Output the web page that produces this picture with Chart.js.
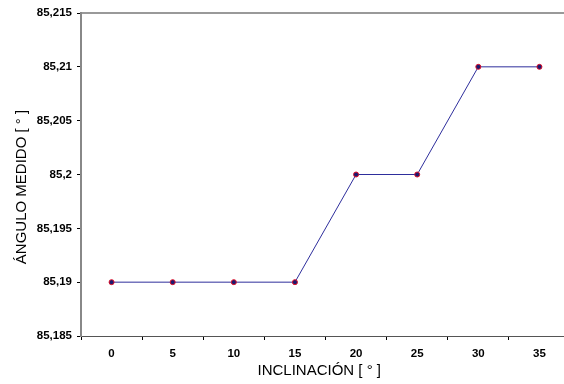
<!DOCTYPE html>
<html>
<head>
<meta charset="utf-8">
<script src="https://cdn.jsdelivr.net/npm/chart.js@4/dist/chart.umd.min.js"></script>
<style>
  html, body { margin: 0; padding: 0; background: #fff; overflow: hidden; }
  #wrap { width: 575px; height: 384px; position: relative; }
</style>
</head>
<body>
<div id="wrap"><canvas id="c"></canvas></div>
<script>
// Inclinación aplicada (grados) y ángulo medido
const inclinacion = ['0', '5', '10', '15', '20', '25', '30', '35'];
const anguloMedido = [85.19, 85.19, 85.19, 85.19, 85.2, 85.2, 85.21, 85.21];
const yTickValues = [85.185, 85.19, 85.195, 85.2, 85.205, 85.21, 85.215];
const yTickLabels = ['85,185', '85,19', '85,195', '85,2', '85,205', '85,21', '85,215'];

const FONT = '"Liberation Sans", Arial, sans-serif';

new Chart(document.getElementById('c'), {
  type: 'line',
  data: {
    labels: inclinacion,
    datasets: [{
      data: anguloMedido,
      borderColor: '#2e2e9c',
      borderWidth: 1,
      pointRadius: 2.5,
      pointBackgroundColor: '#1a1a70',
      pointBorderColor: '#e0102a',
      pointBorderWidth: 1,
      tension: 0
    }]
  },
  options: {
    responsive: true,
    maintainAspectRatio: false,
    animation: false,
    layout: { padding: { top: 13, right: 0, bottom: 0, left: 0 } },
    plugins: { legend: { display: false }, tooltip: { enabled: false } },
    scales: {
      x: {
        offset: true,
        grid: { offset: true, drawOnChartArea: false, drawTicks: true, tickLength: 4, color: '#000' },
        border: { color: '#555', width: 1 },
        ticks: { color: '#000', font: { family: FONT, size: 11.5, weight: 'bold' }, padding: 7, maxRotation: 0 },
        // trailing spaces nudge the centred title slightly left
        title: { display: true, text: 'INCLINACIÓN [ ° ]   ', color: '#000', font: { family: FONT, size: 15 }, padding: { top: 0, bottom: 4 } },
        afterFit: s => { s.height = 48; }
      },
      xTop: {
        position: 'top',
        grid: { display: false },
        ticks: { display: false },
        border: { color: '#999', width: 2 },
        afterFit: s => { s.height = 0; }
      },
      y: {
        min: 85.185,
        max: 85.215,
        afterBuildTicks: s => { s.ticks = yTickValues.map(v => ({ value: v })); },
        grid: { drawOnChartArea: false, drawTicks: true, tickLength: 4, color: '#000' },
        border: { color: '#888', width: 2 },
        ticks: {
          color: '#000',
          font: { family: FONT, size: 11.5, weight: 'bold' },
          padding: 5,
          callback: (v, i) => yTickLabels[i]
        },
        // trailing spaces move the rotated title a little lower
        title: { display: true, text: 'ÁNGULO MEDIDO [ ° ]      ', color: '#000', font: { family: FONT, size: 15 }, padding: { top: 13, bottom: 0 } },
        afterFit: s => { s.width = 81; }
      }
    }
  }
});
</script>
</body>
</html>
